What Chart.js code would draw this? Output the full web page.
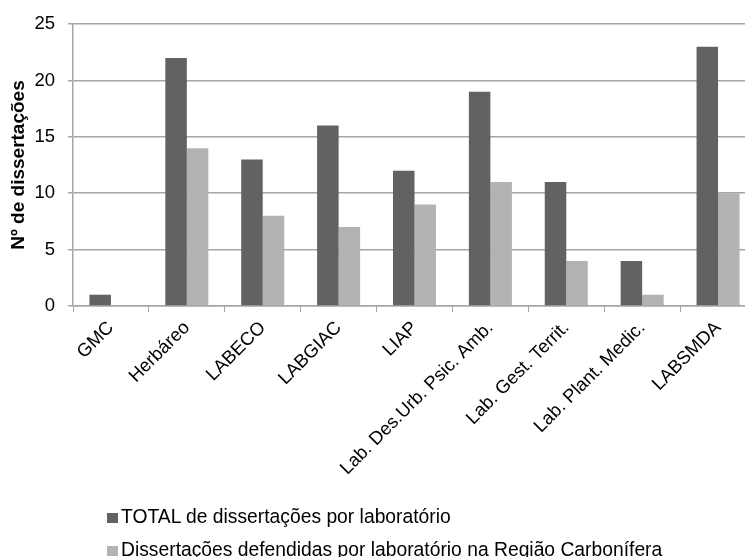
<!DOCTYPE html>
<html>
<head>
<meta charset="utf-8">
<script src="https://cdn.jsdelivr.net/npm/chart.js@4/dist/chart.umd.min.js"></script>
<style>
  body { margin: 0; overflow: hidden; background: #fff; }
  #wrap { position: relative; width: 756px; height: 557px; }
  #legend {
    position: absolute; left: 107px; top: 500px;
    font-family: 'Liberation Sans', Arial, sans-serif; font-size: 19.3px; color: #000;
    line-height: 33px; white-space: nowrap;
  }
  #legend span.box { display: inline-block; width: 11px; height: 10px; margin-right: 3px; }
</style>
</head>
<body>
<div id="wrap">
  <canvas id="graph" width="756" height="557"></canvas>
  <div id="legend"></div>
</div>
<script>
const labs = ['GMC', 'Herbáreo', 'LABECO', 'LABGIAC', 'LIAP', 'Lab. Des.Urb. Psic. Amb.', 'Lab. Gest. Territ.', 'Lab. Plant. Medic.', 'LABSMDA'];
const totalDiss = [1, 22, 13, 16, 12, 19, 11, 4, 23];
const regiaoDiss = [0, 14, 8, 7, 9, 11, 4, 1, 10];
const seriesNames = ['TOTAL de dissertações por laboratório', 'Dissertações defendidas por laboratório na Região Carbonífera'];
const yMax = 25;
const yStep = 5;

const font = "'Liberation Sans', Arial, sans-serif";
const gridGray = '#a6a6a6';

let graph = document.getElementById('graph').getContext('2d');

let chart = new Chart(graph, {
  type: 'bar',
  data: {
    labels: labs,
    datasets: [
      { label: seriesNames[0], data: totalDiss, backgroundColor: '#626262' },
      { label: seriesNames[1], data: regiaoDiss, backgroundColor: '#b3b3b3' }
    ]
  },
  options: {
    responsive: false,
    animation: false,
    layout: { padding: { top: 24, left: 0, right: 0, bottom: 0 } },
    datasets: { bar: { barPercentage: 1, categoryPercentage: 0.567 } },
    plugins: { legend: { display: false }, tooltip: { enabled: false } },
    scales: {
      x: {
        afterFit: s => { s.height = 557 - 306; },
        grid: { display: true, drawOnChartArea: false, drawTicks: true, tickLength: 6, color: gridGray, lineWidth: 1 },
        border: { color: gridGray, width: 1.5 },
        ticks: { minRotation: 45, maxRotation: 45, autoSkip: false, padding: 5, color: '#000', font: { family: font, size: 18.5 } }
      },
      y: {
        min: 0, max: yMax,
        afterFit: s => { s.width = 73; },
        grid: { color: gridGray, lineWidth: 1.5, drawTicks: true, tickLength: 5 },
        border: { color: gridGray, width: 1.5 },
        ticks: { stepSize: yStep, padding: 13, color: '#000', font: { family: font, size: 18.5 } },
        title: {
          display: true, text: 'Nº de dissertações', color: '#000',
          padding: { top: 7, bottom: 0 },
          font: { family: font, size: 19, weight: 'bold' }
        }
      }
    }
  }
});

// legend in two left-aligned rows like the original
const leg = document.getElementById('legend');
chart.data.datasets.forEach(ds => {
  const row = document.createElement('div');
  row.innerHTML = '<span class="box" style="background:' + ds.backgroundColor + '"></span>' + ds.label;
  leg.appendChild(row);
});
</script>
</body>
</html>
